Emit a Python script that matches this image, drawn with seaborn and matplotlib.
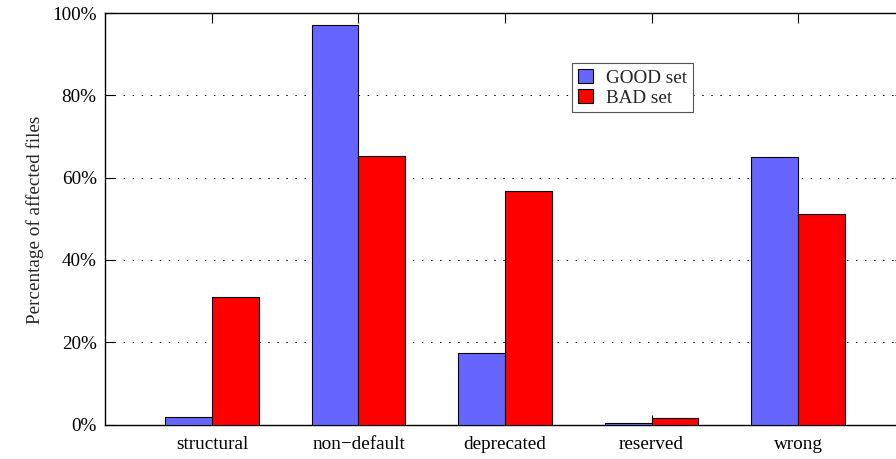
import numpy as np
import pandas as pd
import seaborn as sns
import matplotlib.pyplot as plt

# Data (percent of affected files)
categories = ['structural', 'non\u2212default', 'deprecated', 'reserved', 'wrong']
good_set = [1.9, 97.1, 17.4, 0.3, 65.0]
bad_set = [31.0, 65.2, 56.7, 1.5, 51.1]
set_names = ['GOOD set', 'BAD set']
y_ticks = [0, 20, 40, 60, 80, 100]

df = pd.DataFrame({
    'category': categories * 2,
    'value': good_set + bad_set,
    'set': [set_names[0]] * len(categories) + [set_names[1]] * len(categories),
})

sns.set_style('ticks')
plt.rcParams['font.family'] = ['Liberation Serif', 'DejaVu Serif']
plt.rcParams['font.size'] = 13.8

fig = plt.figure(figsize=(8.96, 4.59), dpi=100)
ax = fig.add_axes([105 / 896, 1 - 424.5 / 459, 800 / 896, 411.5 / 459])

sns.barplot(data=df, x='category', y='value', hue='set',
            palette=['#6666ff', '#ff0000'], width=0.64,
            edgecolor='black', linewidth=0.8, saturation=1,
            ax=ax, zorder=3)

ax.set_xlim(-0.73, 4.73)
ax.set_ylim(0, 100)
ax.set_yticks(y_ticks)
ax.set_yticklabels([f'{v}%' for v in y_ticks])
ax.set_xlabel('')
ax.set_ylabel('Percentage of affected files')
ax.yaxis.set_label_coords(35 / 896, 1 - 220 / 459, transform=fig.transFigure)
ax.yaxis.label.set_verticalalignment('center')

# gnuplot-style dotted grid
ax.yaxis.grid(True, linestyle=(0, (1.5, 7.8)), color='black', linewidth=0.7)
ax.set_axisbelow(True)
ax.tick_params(axis='both', direction='in', length=7, width=0.8, colors='black')
ax.tick_params(axis='x', top=True, pad=8)
ax.tick_params(axis='y', right=True, pad=6)
for s in ax.spines.values():
    s.set_visible(True)
    s.set_color('black')
    s.set_linewidth(1.0)

leg = ax.legend(loc='upper left', bbox_to_anchor=(572 / 896, 1 - 63 / 459),
                bbox_transform=fig.transFigure, borderaxespad=0,
                fancybox=False, framealpha=1, edgecolor='#555555',
                handlelength=0.8, handleheight=0.8, handletextpad=0.7,
                labelspacing=0.1, borderpad=0.3)
leg.get_frame().set_linewidth(0.8)

plt.savefig('out.png', dpi=100)
